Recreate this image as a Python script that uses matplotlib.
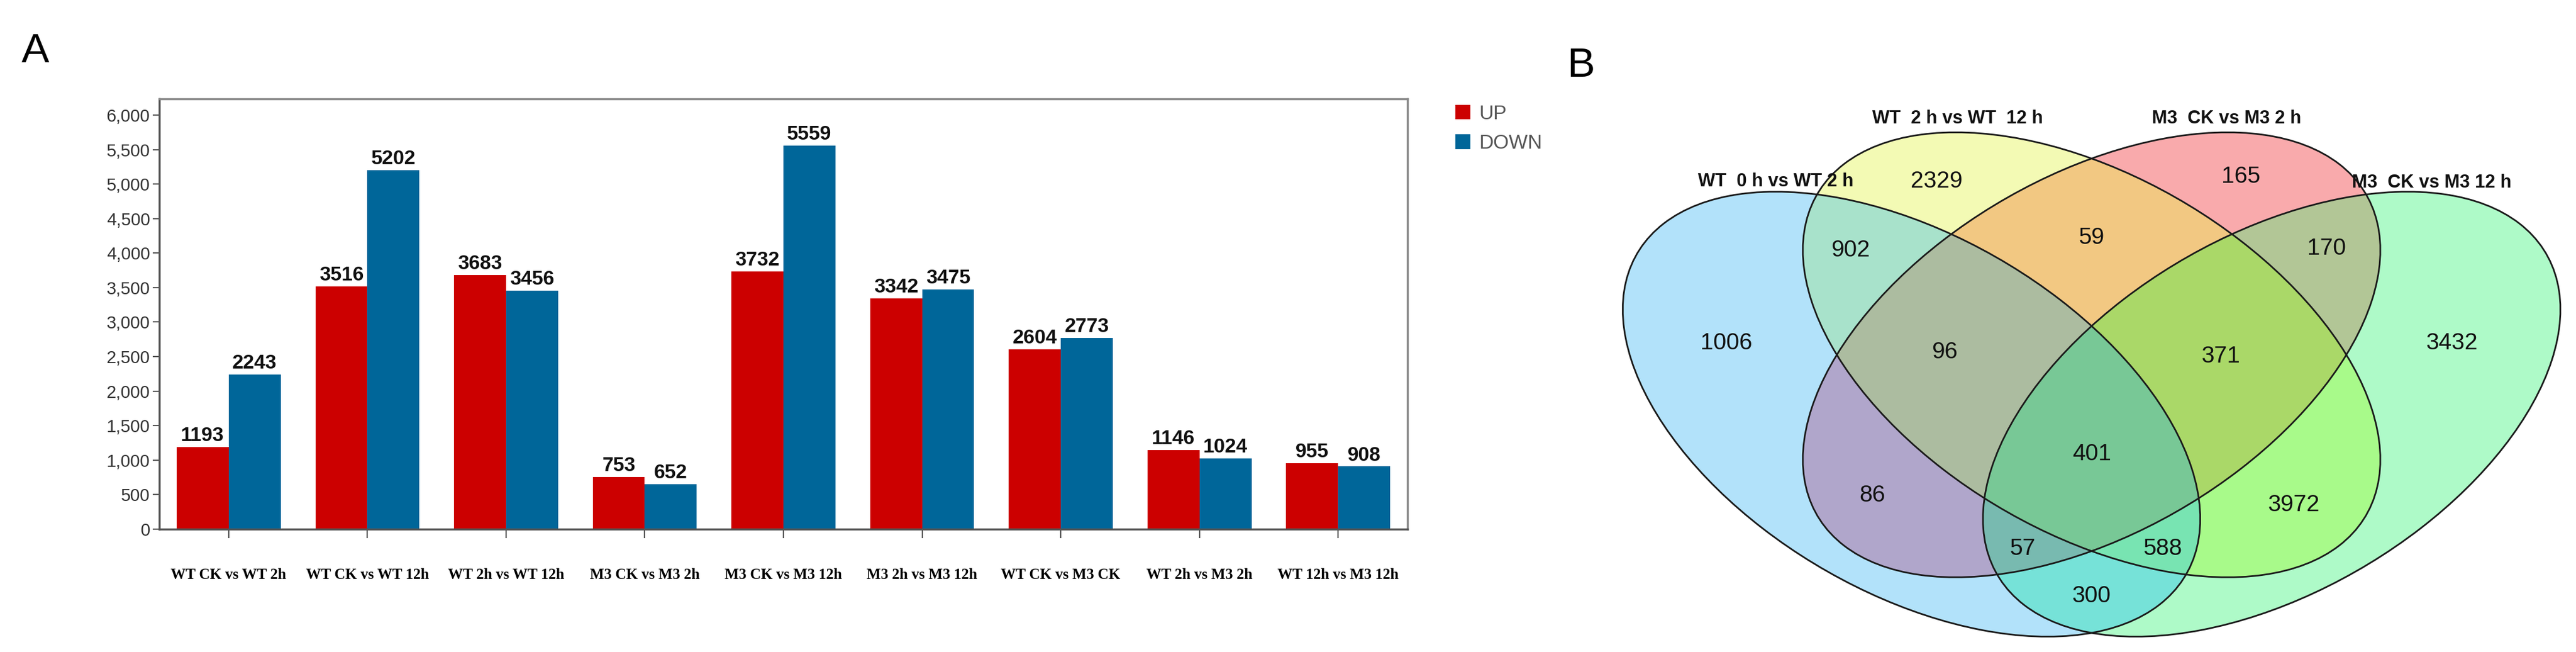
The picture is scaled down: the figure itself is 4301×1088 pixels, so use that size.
import numpy as np
import matplotlib
matplotlib.use('Agg')
import matplotlib.pyplot as plt
from matplotlib.patches import Ellipse
from matplotlib.ticker import FuncFormatter

# ---- panel A data: DEG counts per comparison
comparisons = ['WT CK vs WT 2h', 'WT CK vs WT 12h', 'WT 2h vs WT 12h', 'M3 CK vs M3 2h',
               'M3 CK vs M3 12h', 'M3 2h vs M3 12h', 'WT CK vs M3 CK', 'WT 2h vs M3 2h',
               'WT 12h vs M3 12h']
up_counts = [1193, 3516, 3683, 753, 3732, 3342, 2604, 1146, 955]
down_counts = [2243, 5202, 3456, 652, 5559, 3475, 2773, 1024, 908]

# ---- panel B data: 4-set venn (blue, yellow, pink, green)
venn_sets = ['WT  0 h vs WT 2 h', 'WT  2 h vs WT  12 h', 'M3  CK vs M3 2 h', 'M3  CK vs M3 12 h']
venn_regions = ['1000', '0100', '0010', '0001', '1100', '1010', '1001', '0110',
                '0101', '0011', '1110', '1101', '1011', '0111', '1111']
venn_counts = [1006, 2329, 165, 3432, 902, 86, 300, 59, 3972, 170, 96, 588, 57, 371, 401]

W, H = 4301, 1088
fig = plt.figure(figsize=(W / 100, H / 100), dpi=100)
plt.rcParams['font.family'] = ['Liberation Sans', 'DejaVu Sans']

# ---------------- panel A
ax = fig.add_axes([266 / W, (H - 883) / H, (2350 - 266) / W, (883 - 165) / H])
x = np.arange(len(comparisons))
bw = 0.375
b_up = ax.bar(x - bw / 2, up_counts, bw, color='#cc0000', label='UP')
b_dn = ax.bar(x + bw / 2, down_counts, bw, color='#006699', label='DOWN')
for bars in (b_up, b_dn):
  ax.bar_label(bars, padding=2, fontsize=24, fontweight='bold', color='#111111')

ax.set_xlim(-0.5, 8.5)
ax.set_ylim(0, 6234)
ax.set_yticks(np.arange(0, 6001, 500))
ax.yaxis.set_major_formatter(FuncFormatter(lambda v, p: '{:,}'.format(int(v))))
ax.set_xticks(x)
ax.set_xticklabels(comparisons, fontfamily='Liberation Serif', fontweight='bold', fontsize=18)
for s in ['left', 'bottom']:
  ax.spines[s].set_color('#555555')
  ax.spines[s].set_linewidth(2.5)
for s in ['top', 'right']:
  ax.spines[s].set_color('#8a8a8a')
  ax.spines[s].set_linewidth(2.5)
ax.tick_params(axis='y', length=8, width=1.5, color='#555555', labelsize=21,
               labelcolor='#333333', pad=3)
ax.tick_params(axis='x', length=11, width=1.5, color='#555555', pad=36)

fig.legend(handles=[b_up, b_dn], loc='upper left', bbox_to_anchor=(2413 / W, 1 - 158 / H),
           frameon=False, fontsize=24, labelcolor='#555555', borderpad=0,
           handlelength=0.75, handleheight=0.75, handletextpad=0.45, labelspacing=0.55)

fig.text(36 / W, 1 - 104 / H, 'A', fontsize=50, va='baseline', ha='left')
fig.text(2616 / W, 1 - 128 / H, 'B', fontsize=50, va='baseline', ha='left')

# ---------------- panel B (unit space, stretched to the picture)
vx = fig.add_axes([2657 / W, 20 / H, 1637 / W, 1029 / H])
x0, x1, y0, y1 = 0.0, 0.98, 0.2, 1.0
vx.set_xlim(x0, x1)
vx.set_ylim(y0, y1)
vx.axis('off')

semi_a, semi_b = 0.35, 0.21
ellipses = [(0.32, 0.493, -45), (0.5, 0.57, -45), (0.5, 0.57, 45), (0.68, 0.493, 45)]

region_colors = {
  '1000': '#b2e2fa', '0100': '#f3fab4', '0010': '#f9aaac', '0001': '#aefac8',
  '1100': '#a8e2cb', '1010': '#b0a6cb', '1001': '#76e2d8', '0110': '#f2c882',
  '0101': '#a8fa8a', '0011': '#b2c696', '1110': '#acbca0', '1101': '#78e4b2',
  '1011': '#78bab0', '0111': '#aad868', '1111': '#78c896',
}

nx, ny = 1640, 1030
X, Y = np.meshgrid(np.linspace(x0, x1, nx), np.linspace(y0, y1, ny))
inside = []
for cx, cy, ang in ellipses:
  t = np.deg2rad(ang)
  dx, dy = X - cx, Y - cy
  u = dx * np.cos(t) + dy * np.sin(t)
  v = -dx * np.sin(t) + dy * np.cos(t)
  inside.append((u / semi_a) ** 2 + (v / semi_b) ** 2 <= 1)

img = np.zeros((ny, nx, 4))
for key, col in region_colors.items():
  mask = np.ones_like(X, dtype=bool)
  for k, flag in enumerate(key):
    mask &= inside[k] if flag == '1' else ~inside[k]
  img[mask, :3] = matplotlib.colors.to_rgb(col)
  img[mask, 3] = 1
vx.imshow(img, extent=(x0, x1, y0, y1), origin='lower', aspect='auto', interpolation='nearest')

for cx, cy, ang in ellipses:
  vx.add_patch(Ellipse((cx, cy), 2 * semi_a, 2 * semi_b, angle=ang, fill=False,
                       ec='#1a1a1a', lw=2, clip_on=False))

label_pos = {
  '1000': (0.135, 0.585), '0100': (0.345, 0.795), '0010': (0.649, 0.801), '0001': (0.86, 0.585),
  '1100': (0.259, 0.705), '1010': (0.281, 0.387), '1001': (0.5, 0.257), '0110': (0.5, 0.722),
  '0101': (0.702, 0.375), '0011': (0.735, 0.708), '1110': (0.353, 0.573), '1101': (0.571, 0.318),
  '1011': (0.431, 0.318), '0111': (0.629, 0.568), '1111': (0.5, 0.441),
}
for key, n in zip(venn_regions, venn_counts):
  px, py = label_pos[key]
  vx.text(px, py, str(n), fontsize=28, ha='center', va='center', color='#111111')

set_label_pos = [(0.184, 0.795), (0.366, 0.876), (0.635, 0.876), (0.84, 0.793)]
for name, (px, py) in zip(venn_sets, set_label_pos):
  vx.text(px, py, name, fontsize=22, fontweight='bold', ha='center', va='center', color='#111111')

fig.savefig('out.png', dpi=100, facecolor='white')
